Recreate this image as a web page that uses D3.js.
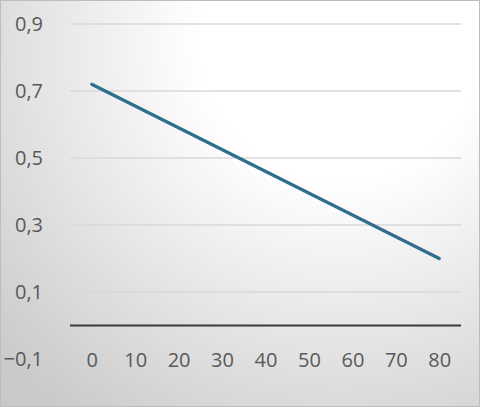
<!DOCTYPE html>
<html>
<head>
<meta charset="utf-8">
<script src="https://cdn.jsdelivr.net/npm/d3@7"></script>
<style>
  body { margin: 0; }
  svg { display: block; font-family: 'Open Sans', sans-serif; }
</style>
</head>
<body>
<svg id="chart"></svg>
<script>
// chart data
var xValues = [0, 80];
var yValues = [0.72, 0.2];
var xTicks = [0, 10, 20, 30, 40, 50, 60, 70, 80];
var yTicks = [0.9, 0.7, 0.5, 0.3, 0.1, -0.1];
var gridTicks = [0.9, 0.7, 0.5, 0.3, 0.1];

var width = 480;
var height = 407;

var svg = d3.select('#chart')
  .attr('width', width)
  .attr('height', height);

// background gradient, white top right fading to grey
var defs = svg.append('defs');
var grad = defs.append('radialGradient')
  .attr('id', 'bg')
  .attr('gradientUnits', 'userSpaceOnUse')
  .attr('cx', 340).attr('cy', 40).attr('r', 470);
grad.append('stop').attr('offset', '0').attr('stop-color', '#ffffff');
grad.append('stop').attr('offset', '0.3').attr('stop-color', '#ffffff');
grad.append('stop').attr('offset', '1').attr('stop-color', '#c9c9c9');

svg.append('rect')
  .attr('x', 0.5).attr('y', 0.5)
  .attr('width', width - 1).attr('height', height - 1)
  .attr('fill', 'url(#bg)')
  .attr('stroke', '#bdbdbd')
  .attr('stroke-width', 1);

var scaleX = d3.scaleLinear()
  .domain([-5, 85])
  .range([70, 461]);

var scaleY = d3.scaleLinear()
  .domain([-0.1, 0.9])
  .range([359, 24]);

var fmt = function(d) { return d3.format('.1f')(d).replace('.', ','); };

// gridlines
svg.append('g')
  .selectAll('line')
  .data(gridTicks)
  .enter()
  .append('line')
    .attr('x1', scaleX.range()[0])
    .attr('x2', scaleX.range()[1])
    .attr('y1', d => scaleY(d))
    .attr('y2', d => scaleY(d))
    .attr('stroke', '#d9d9d9')
    .attr('stroke-width', 1.5);

// zero line
svg.append('line')
  .attr('x1', scaleX.range()[0])
  .attr('x2', scaleX.range()[1])
  .attr('y1', scaleY(0))
  .attr('y2', scaleY(0))
  .attr('stroke', '#3a3a3a')
  .attr('stroke-width', 2);

// y labels
var yAxis = d3.axisLeft(scaleY)
  .tickValues(yTicks)
  .tickFormat(fmt)
  .tickSize(0)
  .tickPadding(0);

svg.append('g')
  .attr('transform', 'translate(43, 0)')
  .call(yAxis)
  .call(g => g.select('.domain').remove())
  .call(g => g.selectAll('text')
    .attr('fill', '#595959')
    .style('font-size', '20px')
    .style('font-family', "'Open Sans', sans-serif"));

// x labels
var xAxis = d3.axisBottom(scaleX)
  .tickValues(xTicks)
  .tickSize(0)
  .tickPadding(0);

svg.append('g')
  .attr('transform', 'translate(0, 353)')
  .call(xAxis)
  .call(g => g.select('.domain').remove())
  .call(g => g.selectAll('text')
    .attr('fill', '#595959')
    .style('font-size', '20px')
    .style('font-family', "'Open Sans', sans-serif"));

// the line
var line = d3.line()
  .x((d, i) => scaleX(xValues[i]))
  .y(d => scaleY(d));

svg.append('path')
  .datum(yValues)
  .attr('d', line)
  .attr('fill', 'none')
  .attr('stroke', '#2f6f8d')
  .attr('stroke-width', 3.2)
  .attr('stroke-linecap', 'round');
</script>
</body>
</html>
